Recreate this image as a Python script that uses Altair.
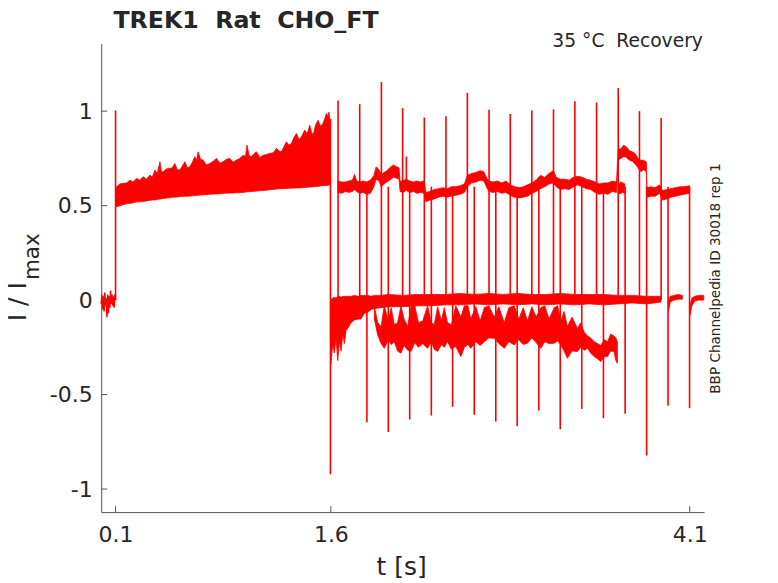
import altair as alt
import pandas as pd

RED = "#ff0000"
INK = "#262626"
AXIS = "#555555"
FONT = "DejaVu Sans"
SP = "\u00a0"  # svg collapses plain double spaces

# holding level before the step (t < 0.1 s)
pre_t = [0.000, 0.005, 0.010, 0.015, 0.020, 0.025, 0.030, 0.035, 0.040, 0.045, 0.050,
         0.055, 0.060, 0.065, 0.070, 0.075, 0.080, 0.085, 0.090, 0.095, 0.100]
pre_v = [-0.02, 0.03, -0.05, 0.02, -0.06, 0.04, -0.03, 0.01, -0.09, 0.03, -0.07,
         0.02, -0.04, 0.05, -0.02, 0.03, -0.03, 0.02, -0.04, 0.03, 0.00]

# activation phase 0.1 - 1.6 s (envelope of the overlaid sweeps)
ramp_t = [0.100, 0.107, 0.130, 0.153, 0.176, 0.200, 0.223, 0.246, 0.270, 0.293, 0.316, 0.339,
          0.356, 0.374, 0.390, 0.409, 0.420, 0.432, 0.455, 0.478, 0.495, 0.513, 0.530, 0.548,
          0.565, 0.583, 0.600, 0.617, 0.635, 0.652, 0.665, 0.675, 0.692, 0.710, 0.733, 0.757,
          0.780, 0.803, 0.826, 0.849, 0.872, 0.896, 0.919, 0.942, 0.965, 0.989, 1.005, 1.016,
          1.030, 1.047, 1.065, 1.081, 1.105, 1.128, 1.150, 1.174, 1.198, 1.221, 1.238, 1.255,
          1.272, 1.290, 1.308, 1.325, 1.343, 1.360, 1.378, 1.395, 1.418, 1.435, 1.453, 1.465,
          1.476, 1.495, 1.511, 1.528, 1.545, 1.557, 1.569, 1.580, 1.587, 1.597]
ramp_lo = [0.500, 0.494, 0.500, 0.505, 0.510, 0.512, 0.515, 0.520, 0.520, 0.522, 0.525, 0.528,
           0.530, 0.530, 0.533, 0.535, 0.537, 0.538, 0.540, 0.542, 0.544, 0.545, 0.546, 0.548,
           0.549, 0.550, 0.550, 0.551, 0.552, 0.553, 0.554, 0.555, 0.556, 0.557, 0.558, 0.560,
           0.561, 0.562, 0.563, 0.565, 0.566, 0.567, 0.567, 0.568, 0.568, 0.570, 0.572, 0.573,
           0.574, 0.575, 0.576, 0.577, 0.579, 0.580, 0.582, 0.584, 0.586, 0.588, 0.589, 0.590,
           0.590, 0.591, 0.592, 0.592, 0.593, 0.594, 0.594, 0.595, 0.596, 0.597, 0.598, 0.599,
           0.600, 0.601, 0.602, 0.604, 0.605, 0.606, 0.607, 0.608, 0.609, 0.610]
ramp_hi = [0.580, 0.600, 0.615, 0.618, 0.620, 0.635, 0.625, 0.644, 0.635, 0.653, 0.640, 0.662,
           0.650, 0.688, 0.670, 0.732, 0.680, 0.679, 0.695, 0.697, 0.700, 0.723, 0.690, 0.688,
           0.710, 0.732, 0.700, 0.706, 0.730, 0.759, 0.740, 0.785, 0.745, 0.741, 0.715, 0.723,
           0.735, 0.750, 0.725, 0.732, 0.745, 0.750, 0.730, 0.741, 0.750, 0.767, 0.760, 0.820,
           0.765, 0.759, 0.775, 0.785, 0.755, 0.767, 0.770, 0.776, 0.780, 0.803, 0.790, 0.785,
           0.810, 0.838, 0.820, 0.829, 0.860, 0.882, 0.850, 0.864, 0.900, 0.880, 0.926, 0.890,
           0.873, 0.930, 0.952, 0.920, 0.935, 0.960, 0.988, 0.970, 0.996, 0.917]

# open level after the pulses (~0.6)
open_t = [1.650, 1.675, 1.700, 1.725, 1.750, 1.765, 1.780, 1.801, 1.825, 1.850, 1.875, 1.900,
          1.915, 1.935, 1.952, 1.970, 1.990, 2.010, 2.035, 2.060, 2.075, 2.082, 2.100, 2.125,
          2.150, 2.175, 2.200, 2.225, 2.250, 2.262, 2.290, 2.320, 2.350, 2.380, 2.410, 2.440,
          2.470, 2.500, 2.530, 2.551, 2.580, 2.610, 2.640, 2.665, 2.690, 2.702, 2.730, 2.760,
          2.790, 2.820, 2.850, 2.880, 2.910, 2.940, 2.970, 3.000, 3.030, 3.060, 3.090, 3.120,
          3.150, 3.170, 3.200, 3.230, 3.260, 3.290, 3.320, 3.350, 3.380, 3.410, 3.440, 3.470,
          3.500, 3.530, 3.560, 3.590, 3.602, 3.620, 3.640, 3.660, 3.680, 3.700, 3.720, 3.740,
          3.760, 3.780, 3.798, 3.802, 3.830, 3.860, 3.890, 3.910, 3.940, 3.970, 4.000, 4.030,
          4.060, 4.099]
open_lo = [0.570, 0.565, 0.575, 0.570, 0.575, 0.585, 0.575, 0.565, 0.570, 0.560, 0.565, 0.600,
           0.640, 0.630, 0.600, 0.615, 0.625, 0.635, 0.650, 0.645, 0.640, 0.575, 0.570, 0.580,
           0.570, 0.575, 0.565, 0.570, 0.565, 0.520, 0.530, 0.535, 0.545, 0.550, 0.545, 0.550,
           0.555, 0.560, 0.570, 0.600, 0.620, 0.625, 0.635, 0.630, 0.590, 0.575, 0.570, 0.575,
           0.565, 0.570, 0.555, 0.545, 0.540, 0.545, 0.550, 0.565, 0.575, 0.590, 0.600, 0.615,
           0.620, 0.600, 0.585, 0.590, 0.585, 0.600, 0.610, 0.600, 0.590, 0.585, 0.570, 0.560,
           0.565, 0.560, 0.575, 0.570, 0.740, 0.750, 0.760, 0.755, 0.740, 0.735, 0.720, 0.700,
           0.680, 0.690, 0.680, 0.545, 0.550, 0.550, 0.565, 0.530, 0.535, 0.545, 0.550, 0.555,
           0.560, 0.565]
open_hi = [0.630, 0.625, 0.625, 0.630, 0.635, 0.665, 0.630, 0.625, 0.630, 0.625, 0.635, 0.660,
           0.705, 0.690, 0.665, 0.675, 0.685, 0.700, 0.715, 0.705, 0.700, 0.630, 0.630, 0.640,
           0.630, 0.625, 0.630, 0.625, 0.630, 0.570, 0.575, 0.585, 0.590, 0.595, 0.590, 0.600,
           0.600, 0.605, 0.615, 0.660, 0.670, 0.675, 0.685, 0.680, 0.640, 0.630, 0.625, 0.630,
           0.620, 0.630, 0.610, 0.600, 0.595, 0.600, 0.610, 0.620, 0.635, 0.660, 0.650, 0.670,
           0.685, 0.650, 0.640, 0.640, 0.635, 0.650, 0.655, 0.650, 0.640, 0.635, 0.625, 0.615,
           0.620, 0.620, 0.630, 0.625, 0.800, 0.800, 0.820, 0.810, 0.790, 0.785, 0.775, 0.750,
           0.740, 0.740, 0.730, 0.595, 0.600, 0.595, 0.610, 0.580, 0.585, 0.590, 0.595, 0.600,
           0.600, 0.605]

# short piece of a second sweep that stays open at 3.6 s
open2_t = [3.602, 3.620, 3.635, 3.648]
open2_lo = [0.560, 0.565, 0.570, 0.565]
open2_hi = [0.615, 0.625, 0.620, 0.615]

# closed level (~0) after the drop at 1.6 s
zero_t = [1.600, 1.612, 1.624, 1.636, 1.648, 1.660, 1.671, 1.683, 1.694, 1.706, 1.717, 1.740,
          1.764, 1.790, 1.810, 1.833, 1.856, 1.880, 1.903, 1.950, 2.000, 2.100, 2.200, 2.300,
          2.400, 2.500, 2.600, 2.700, 2.800, 2.900, 3.000, 3.100, 3.200, 3.300, 3.400, 3.500,
          3.600, 3.700, 3.800, 3.900]
zero_lo = [-0.340, -0.240, -0.280, -0.200, -0.320, -0.220, -0.270, -0.180, -0.230, -0.160,
           -0.150, -0.120, -0.105, -0.100, -0.100, -0.070, -0.065, -0.050, -0.045, -0.040,
           -0.035, -0.035, -0.030, -0.030, -0.025, -0.025, -0.020, -0.025, -0.020, -0.025,
           -0.020, -0.025, -0.020, -0.025, -0.020, -0.025, -0.020, -0.015, -0.020, -0.010]
zero_hi = [0.000, 0.010, 0.015, 0.010, 0.020, 0.020, 0.015, 0.020, 0.020, 0.020, 0.020, 0.020,
           0.025, 0.020, 0.025, 0.025, 0.025, 0.020, 0.025, 0.025, 0.030, 0.025, 0.030, 0.030,
           0.030, 0.035, 0.030, 0.035, 0.030, 0.035, 0.030, 0.030, 0.035, 0.030, 0.030, 0.030,
           0.025, 0.025, 0.020, 0.020]

zero2_t = [3.952, 3.965, 3.990, 4.020, 4.049]
zero2_lo = [-0.060, -0.010, 0.000, 0.005, 0.005]
zero2_hi = [0.000, 0.020, 0.025, 0.030, 0.025]

zero3_t = [4.102, 4.115, 4.135, 4.160, 4.198]
zero3_lo = [-0.080, -0.030, -0.005, 0.000, 0.000]
zero3_hi = [-0.030, 0.010, 0.020, 0.025, 0.025]

# partially inactivated sweeps below zero (upper edge notched where the traces leave gaps)
low_t = [1.903, 1.926, 1.950, 1.972, 2.000, 2.020, 2.042, 2.065, 2.088, 2.110, 2.135, 2.158,
         2.185, 2.210, 2.240, 2.274, 2.300, 2.320, 2.344, 2.370, 2.390, 2.413, 2.440, 2.470,
         2.506, 2.530, 2.555, 2.575, 2.610, 2.640, 2.669, 2.700, 2.738, 2.770, 2.808, 2.840,
         2.877, 2.910, 2.940, 2.970, 3.000, 3.030, 3.063, 3.090, 3.120, 3.156, 3.180, 3.202,
         3.225, 3.248, 3.280, 3.318, 3.341, 3.365, 3.388, 3.410, 3.434, 3.458, 3.480, 3.505,
         3.527, 3.550, 3.573, 3.585, 3.596]
low_lo = [-0.100, -0.184, -0.230, -0.255, -0.210, -0.235, -0.220, -0.270, -0.281, -0.240,
          -0.265, -0.272, -0.225, -0.250, -0.230, -0.255, -0.220, -0.260, -0.272, -0.235,
          -0.250, -0.220, -0.260, -0.245, -0.299, -0.250, -0.235, -0.255, -0.220, -0.240,
          -0.220, -0.200, -0.202, -0.230, -0.255, -0.220, -0.237, -0.210, -0.235, -0.228,
          -0.200, -0.225, -0.255, -0.220, -0.230, -0.228, -0.215, -0.237, -0.270, -0.308,
          -0.270, -0.272, -0.250, -0.265, -0.255, -0.280, -0.299, -0.310, -0.325, -0.300,
          -0.299, -0.270, -0.272, -0.320, -0.334]
low_hi = [-0.030, -0.120, -0.140, -0.030, -0.110, -0.040, -0.130, -0.120, -0.030, -0.100,
          -0.140, -0.035, -0.030, -0.120, -0.110, -0.030, -0.120, -0.130, -0.035, -0.110,
          -0.040, -0.120, -0.130, -0.030, -0.090, -0.030, -0.030, -0.100, -0.035, -0.110,
          -0.040, -0.030, -0.090, -0.035, -0.120, -0.040, -0.030, -0.100, -0.040, -0.110,
          -0.035, -0.090, -0.040, -0.030, -0.100, -0.040, -0.030, -0.110, -0.060, -0.140,
          -0.090, -0.150, -0.120, -0.170, -0.190, -0.200, -0.220, -0.230, -0.240, -0.210,
          -0.220, -0.180, -0.190, -0.200, -0.220]

# capacitive transients: upward (closed -> open) and downward (open -> closed)
up_t = [0.100, 1.650, 1.801, 1.952, 2.100, 2.251, 2.402, 2.551, 2.702, 2.850, 3.000,
        3.151, 3.300, 3.451, 3.602, 3.750, 3.901, 2.126]
up_from = [0.00, 0.00, 0.00, 0.00, 0.00, 0.00, 0.00, 0.00, 0.00, 0.00, 0.00,
           0.00, 0.00, 0.00, 0.00, 0.00, 0.00, 0.60]
up_to = [1.004, 1.057, 1.037, 1.154, 1.016, 0.966, 0.973, 1.097, 1.008, 0.985, 1.003,
         1.010, 1.053, 1.046, 1.123, 1.000, 0.964, 0.760]

dn_t = [1.597, 1.851, 2.000, 2.149, 2.300, 2.448, 2.599, 2.749, 2.898, 3.049, 3.198,
        3.348, 3.499, 3.650, 3.800, 3.949, 4.099]
dn_from = [0.96, 0.60, 0.60, 0.60, 0.60, 0.60, 0.60, 0.60, 0.60, 0.60, 0.60,
           0.60, 0.60, 0.60, 0.60, 0.60, 0.60]
dn_to = [-0.922, -0.646, -0.698, -0.632, -0.611, -0.565, -0.607, -0.643, -0.668, -0.584,
         -0.683, -0.576, -0.625, -0.602, -0.823, -0.559, -0.572]

x_ticks = [0.1, 1.6, 4.1]
y_ticks = [-1, -0.5, 0, 0.5, 1]

W, H = 603.4, 469

def band(name, t, lo, hi):
    return pd.DataFrame({"t": t, "lo": lo, "hi": hi, "seg": name})

bands = pd.concat([
    band("ramp", ramp_t, ramp_lo, ramp_hi),
    band("open", open_t, open_lo, open_hi),
    band("open2", open2_t, open2_lo, open2_hi),
    band("zero", zero_t, zero_lo, zero_hi),
    band("zero2", zero2_t, zero2_lo, zero2_hi),
    band("zero3", zero3_t, zero3_lo, zero3_hi),
    band("low", low_t, low_lo, low_hi),
])
pre = pd.DataFrame({"t": pre_t, "v": pre_v})
spikes = pd.concat([
    pd.DataFrame({"t": up_t, "a": up_from, "b": up_to}),
    pd.DataFrame({"t": dn_t, "a": dn_from, "b": dn_to}),
])

xs = alt.Scale(domain=[0, 4.2], nice=False, zero=False)
ys = alt.Scale(domain=[-1.122, 1.358], nice=False, zero=False)

# same axis objects in every layer so the merged axes keep their settings
x_axis = alt.Axis(values=x_ticks, format=".1f", title=None, grid=False, ticks=False, tickSize=0,
                  domainColor=AXIS, domainWidth=1, labelFont=FONT, labelFontSize=22,
                  labelColor=INK, labelPadding=29, labelBaseline="alphabetic", labelFlush=False)
y_axis = alt.Axis(values=y_ticks, title=None, grid=False, ticks=False, tickSize=0,
                  domainColor=AXIS, domainWidth=1, labelFont=FONT, labelFontSize=22,
                  labelColor=INK, labelPadding=9,
                  labelExpr="datum.value < 0 ? '-' + format(-datum.value, '') : format(datum.value, '')")

X = lambda f: alt.X(f, scale=xs, axis=x_axis)
Y = lambda f: alt.Y(f, scale=ys, axis=y_axis)

base_line = alt.Chart(pre).mark_line(color=RED, strokeWidth=1.5).encode(x=X("t:Q"), y=Y("v:Q"))

band_area = alt.Chart(bands).mark_area(color=RED, stroke=RED, strokeWidth=0.8).encode(
    x=X("t:Q"), y=Y("lo:Q"), y2="hi:Q", detail="seg:N"
)

spike_rules = alt.Chart(spikes).mark_rule(color=RED, strokeWidth=1.6).encode(
    x=X("t:Q"), y=Y("a:Q"), y2="b:Q"
)

# MATLAB-style inward ticks
ytick_marks = alt.Chart(pd.DataFrame({"v": y_ticks})).mark_rule(color=AXIS, strokeWidth=1).encode(
    y=Y("v:Q"), x=alt.value(0), x2=alt.value(6)
)
xtick_marks = alt.Chart(pd.DataFrame({"t": x_ticks})).mark_rule(color=AXIS, strokeWidth=1).encode(
    x=X("t:Q"), y=alt.value(H), y2=alt.value(H - 6)
)

one = pd.DataFrame({"a": [0]})

def label(text, x, y, size, **kw):
    return alt.Chart(one).mark_text(text=text, font=FONT, fontSize=size, color=INK, **kw).encode(
        x=alt.value(x), y=alt.value(y)
    )

texts = [
    label(f"TREK1{SP}{SP}Rat{SP}{SP}CHO_FT", 12.2, -16.0, 23.7, fontWeight="bold", align="left",
          baseline="alphabetic"),
    label(f"35 °C{SP}{SP}Recovery", 602.2, 3.7, 18.7, align="right", baseline="alphabetic"),
    label("BBP Channelpedia ID 30018 rep 1", 615.2, 235.2, 13.6, angle=270, align="center",
          baseline="middle"),
    label("I / I", -74.8, 258.4, 25, angle=270, align="center", baseline="alphabetic"),
    label("max", -62, 213.4, 21.5, angle=270, align="center", baseline="alphabetic"),
    label("t [s]", 300.7, 531.7, 25, align="center", baseline="alphabetic"),
]

chart = alt.layer(
    base_line, band_area, spike_rules, ytick_marks, xtick_marks, *texts
).properties(
    width=W, height=H,
    background="white",
    autosize=alt.AutoSizeParams(type="none"),
    padding={"left": 93.3, "top": 35.3, "right": 66, "bottom": 68},
).configure_view(strokeWidth=0, stroke="transparent")

chart.save("out.html", embed_options={"renderer": "svg", "actions": False})
